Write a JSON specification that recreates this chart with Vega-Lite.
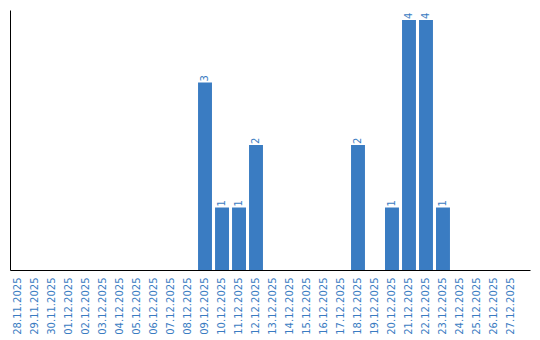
{
  "$schema": "https://vega.github.io/schema/vega-lite/v6.json",
  "width": 520,
  "height": 260,
  "padding": {"left": 10, "top": 10, "right": 10, "bottom": 5},
  "autosize": {"type": "pad"},
  "config": {"view": {"stroke": null}, "font": "DejaVu Sans"},
  "data": {"values": [
    {"date": "28.11.2025", "count": 0},
    {"date": "29.11.2025", "count": 0},
    {"date": "30.11.2025", "count": 0},
    {"date": "01.12.2025", "count": 0},
    {"date": "02.12.2025", "count": 0},
    {"date": "03.12.2025", "count": 0},
    {"date": "04.12.2025", "count": 0},
    {"date": "05.12.2025", "count": 0},
    {"date": "06.12.2025", "count": 0},
    {"date": "07.12.2025", "count": 0},
    {"date": "08.12.2025", "count": 0},
    {"date": "09.12.2025", "count": 3},
    {"date": "10.12.2025", "count": 1},
    {"date": "11.12.2025", "count": 1},
    {"date": "12.12.2025", "count": 2},
    {"date": "13.12.2025", "count": 0},
    {"date": "14.12.2025", "count": 0},
    {"date": "15.12.2025", "count": 0},
    {"date": "16.12.2025", "count": 0},
    {"date": "17.12.2025", "count": 0},
    {"date": "18.12.2025", "count": 2},
    {"date": "19.12.2025", "count": 0},
    {"date": "20.12.2025", "count": 1},
    {"date": "21.12.2025", "count": 4},
    {"date": "22.12.2025", "count": 4},
    {"date": "23.12.2025", "count": 1},
    {"date": "24.12.2025", "count": 0},
    {"date": "25.12.2025", "count": 0},
    {"date": "26.12.2025", "count": 0},
    {"date": "27.12.2025", "count": 0}
  ]},
  "encoding": {
    "x": {
      "field": "date", "type": "ordinal", "sort": null,
      "scale": {"paddingInner": 0.18, "paddingOuter": 0.385, "align": 0.08},
      "axis": {"title": null, "labelAngle": 270, "labelAlign": "right", "labelBaseline": "middle",
               "labelColor": "#3a7cc2", "labelFontSize": 10, "labelFont": "DejaVu Sans",
               "ticks": false, "labelPadding": 7, "domainColor": "#000000", "domainWidth": 1}
    },
    "y": {
      "field": "count", "type": "quantitative",
      "scale": {"domain": [0, 4.16], "nice": false},
      "axis": {"title": null, "labels": false, "ticks": false, "grid": false, "domainColor": "#000000"}
    }
  },
  "layer": [
    {"mark": {"type": "bar", "color": "#3a7cc2"}},
    {"mark": {"type": "text", "angle": 270, "align": "left", "baseline": "middle", "dx": 1,
              "color": "#3a7cc2", "fontSize": 10, "font": "DejaVu Sans"},
     "transform": [{"filter": "datum.count > 0"}],
     "encoding": {"text": {"field": "count", "type": "quantitative"}}}
  ]
}
